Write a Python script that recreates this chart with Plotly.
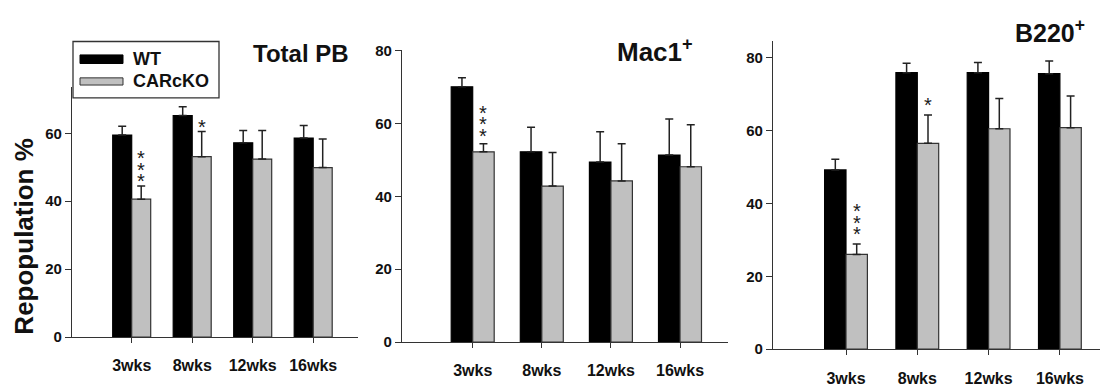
import plotly.graph_objects as go

# ---------------- data ----------------
weeks = ["3wks", "8wks", "12wks", "16wks"]

totalpb_wt = [59.5, 65.2, 57.2, 58.6]
totalpb_wt_err = [2.6, 2.6, 3.6, 3.7]
totalpb_ko = [40.6, 53.1, 52.4, 49.9]
totalpb_ko_err = [3.9, 7.4, 8.4, 8.4]
totalpb_sig = ["***", "*", "", ""]

mac1_wt = [70.0, 52.2, 49.4, 51.3]
mac1_wt_err = [2.5, 6.7, 8.3, 9.9]
mac1_ko = [52.2, 42.8, 44.2, 48.1]
mac1_ko_err = [2.2, 9.2, 10.2, 11.5]
mac1_sig = ["***", "", "", ""]

b220_wt = [49.2, 75.9, 75.9, 75.6]
b220_wt_err = [2.9, 2.6, 2.8, 3.5]
b220_ko = [26.0, 56.5, 60.5, 60.8]
b220_ko_err = [2.9, 7.8, 8.3, 8.7]
b220_sig = ["***", "*", "", ""]

y_ticks = [0, 20, 40, 60, 80]
series_names = ["WT", "CARcKO"]

# ---------------- styling ----------------
W, H = 1110, 390
FONT = "Liberation Sans, Arial, sans-serif"
WT_COLOR = "#000000"
KO_COLOR = "#c0c0c0"
EDGE = "#333333"
AXIS = "#333333"


def fx(x):
    return x / W


def fy(y):
    return 1 - y / H


panels = [
    dict(title="Total PB", tsize=24, tx=351, ty=47,
         wt=totalpb_wt, wte=totalpb_wt_err, ko=totalpb_ko, koe=totalpb_ko_err, sig=totalpb_sig,
         xd=(72, 358), yd=(343, 82), yr=(0, 73.5), x0=131.7, sp=60.5, bw=0.314, star0=5),
    dict(title="Mac1<sup>+</sup>", tsize=26, tx=695, ty=43,
         wt=mac1_wt, wte=mac1_wt_err, ko=mac1_ko, koe=mac1_ko_err, sig=mac1_sig,
         xd=(402, 728), yd=(348.3, 43.3), yr=(0, 80), x0=472.7, sp=69.1, bw=0.311, star0=8),
    dict(title="B220<sup>+</sup>", tsize=25, tx=1087, ty=23,
         wt=b220_wt, wte=b220_wt_err, ko=b220_ko, koe=b220_ko_err, sig=b220_sig,
         xd=(773, 1100), yd=(355.7, 33), yr=(0, 84.7), x0=846, sp=71.3, bw=0.30, star0=10),
]

fig = go.Figure()
annotations = []
xs = list(range(len(weeks)))

for k, p in enumerate(panels):
    sfx = "" if k == 0 else str(k + 1)
    xa, ya = "x" + sfx, "y" + sfx
    bw = p["bw"]
    for vals, errs, color, name, off in [
        (p["wt"], p["wte"], WT_COLOR, series_names[0], -bw),
        (p["ko"], p["koe"], KO_COLOR, series_names[1], 0.0),
    ]:
        fig.add_trace(go.Bar(
            x=xs, y=vals, name=name, xaxis=xa, yaxis=ya,
            width=bw, offset=off,
            marker=dict(color=color, line=dict(color=EDGE if color != WT_COLOR else "#000000", width=1.2)),
            error_y=dict(type="data", array=errs, arrayminus=[0] * len(errs), symmetric=False,
                         color="#222222", thickness=1.5, width=4),
            showlegend=False,
        ))
    # significance stars
    for i, s in enumerate(p["sig"]):
        top = p["ko"][i] + p["koe"][i]
        for j in range(len(s)):
            annotations.append(dict(
                x=i + bw / 2, y=top, xref=xa, yref=ya, text="*", showarrow=False,
                yshift=p["star0"] + 11.3 * j, yanchor="middle", xanchor="center",
                font=dict(family=FONT, size=20, color="#1a1a1a"),
            ))
    # panel title
    annotations.append(dict(
        x=fx(p["tx"]), y=fy(p["ty"]), xref="paper", yref="paper", text="<b>%s</b>" % p["title"],
        showarrow=False, xanchor="right", yanchor="middle",
        font=dict(family=FONT, size=p["tsize"], color="#111111"),
    ))
    xr = ((p["xd"][0] - p["x0"]) / p["sp"], (p["xd"][1] - p["x0"]) / p["sp"])
    fig.update_layout(**{
        "xaxis" + sfx: dict(
            domain=[fx(p["xd"][0]), fx(p["xd"][1])], range=list(xr), anchor=ya,
            tickvals=xs, ticktext=["<b>%s</b>" % w for w in weeks],
            showline=True, linecolor=AXIS, linewidth=1.3, ticks="outside", ticklen=5,
            tickcolor=AXIS, tickwidth=1.2, showgrid=False, zeroline=False, ticklabelstandoff=9,
            tickfont=dict(family=FONT, size=16, color="#111111"), fixedrange=True,
        ),
        "yaxis" + sfx: dict(
            domain=[fy(p["yd"][0]), fy(p["yd"][1])], range=list(p["yr"]), anchor=xa,
            tickvals=[t for t in y_ticks if t <= p["yr"][1]],
            ticktext=["<b>%d</b>" % t for t in y_ticks if t <= p["yr"][1]],
            showline=True, linecolor=AXIS, linewidth=1.3, ticks="outside", ticklen=6,
            tickcolor=AXIS, tickwidth=1.2, showgrid=False, zeroline=False,
            tickfont=dict(family=FONT, size=15, color="#111111"), fixedrange=True,
        ),
    })

# y-axis title
annotations.append(dict(
    x=fx(24), y=fy(238), xref="paper", yref="paper", text="<b>Repopulation %</b>",
    textangle=-90, showarrow=False, xanchor="center", yanchor="middle",
    font=dict(family=FONT, size=26, color="#111111"),
))

# legend (drawn manually to match the wide swatches)
shapes = [
    dict(type="rect", xref="paper", yref="paper", x0=fx(73), x1=fx(219), y0=fy(93), y1=fy(34),
         line=dict(color="#333333", width=1.3), fillcolor="white", layer="above"),
    dict(type="rect", xref="paper", yref="paper", x0=fx(80), x1=fx(123), y0=fy(57), y1=fy(48),
         line=dict(color="#000000", width=1), fillcolor=WT_COLOR, layer="above"),
    dict(type="rect", xref="paper", yref="paper", x0=fx(80), x1=fx(123), y0=fy(79.5), y1=fy(72),
         line=dict(color=EDGE, width=1), fillcolor=KO_COLOR, layer="above"),
]
for name, yc in [(series_names[0], 52.5), (series_names[1], 75.5)]:
    annotations.append(dict(
        x=fx(131), y=fy(yc), xref="paper", yref="paper", text="<b>%s</b>" % name,
        showarrow=False, xanchor="left", yanchor="middle",
        font=dict(family=FONT, size=18, color="#111111"),
    ))

fig.update_layout(
    width=W, height=H, margin=dict(l=0, r=0, t=0, b=0),
    paper_bgcolor="white", plot_bgcolor="white",
    barmode="overlay", showlegend=False,
    annotations=annotations, shapes=shapes,
)

fig.write_html("out.html")
